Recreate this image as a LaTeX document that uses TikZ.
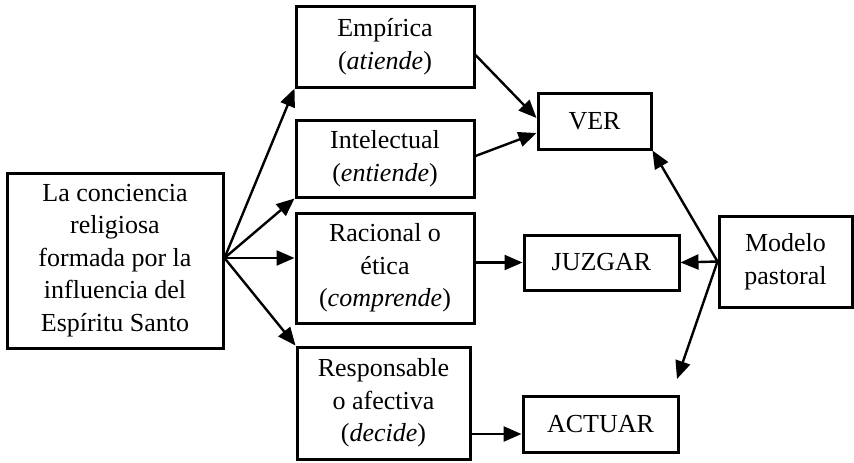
\documentclass[tikz,border=0pt]{standalone}
\usepackage{fontspec}
\setmainfont{Liberation Serif}
\usetikzlibrary{arrows.meta,calc}
\begin{document}
\begin{tikzpicture}[x=1pt,y=-1pt,
  box/.style={draw,line width=3pt,inner sep=0pt,align=center,
    font=\fontsize{26}{32.5}\selectfont},
  conn/.style={line width=2.4pt,-{Triangle[length=18pt,width=15pt]}}]
\useasboundingbox (0,0) rectangle (854,463);

% source box and the four kinds of conscience
\node[box,minimum width=216pt,minimum height=175pt] (src) at (115,260.5)
  {La conciencia\\religiosa\\formada por la\\influencia del\\Espíritu Santo};
\node[box,minimum width=178pt,minimum height=81pt] (emp) at (385,46.5)
  {Empírica\\(\textit{atiende})};
\node[box,minimum width=178pt,minimum height=77pt] (int) at (385,158.5)
  {Intelectual\\(\textit{entiende})};
\node[box,minimum width=178pt,minimum height=110pt] (rac) at (385,268)
  {Racional o\\ética\\(\textit{comprende})};
\node[box,minimum width=173pt,minimum height=112pt] (res) at (383.5,403)
  {Responsable\\o afectiva\\(\textit{decide})};

% the three steps
\node[box,minimum width=113pt,minimum height=56pt] (ver) at (594.5,121) {VER};
\node[box,minimum width=155pt,minimum height=55pt] (juz) at (601.5,262.5) {JUZGAR};
\node[box,minimum width=155pt,minimum height=56pt] (act) at (600.5,424) {ACTUAR};

% pastoral model
\node[box,minimum width=133pt,minimum height=91pt] (mod) at (785.5,261.5)
  {Modelo\\pastoral};

% connector end points
\coordinate (fan) at ($(src.east)+(0,-2.5)$);
\coordinate (empout) at ($(emp.east)+(0,8.5)$);
\coordinate (verin1) at ($(ver.west)+(0,-3)$);
\coordinate (intout) at ($(int.east)+(0,-2.5)$);
\coordinate (verin2) at ($(ver.west)+(0,12)$);
\coordinate (actin) at ($(act.west)+(0,10)$);
\coordinate (down) at (677,379);

\draw[conn] (fan) -- (emp.south west);
\draw[conn] (fan) -- (int.south west);
\draw[conn] (fan) -- (fan -| rac.west);
\draw[conn] (fan) -- (res.north west);

\draw[conn] (empout) -- (verin1);
\draw[conn] (intout) -- (verin2);
\draw[conn] (juz.west -| rac.east) -- (juz.west);
\draw[conn] (actin -| res.east) -- (actin);

\draw[conn] (mod.west) -- (juz.east);
\draw[conn] (mod.west) -- (ver.south east);
\draw[conn] (mod.west) -- (down);
\end{tikzpicture}
\end{document}
